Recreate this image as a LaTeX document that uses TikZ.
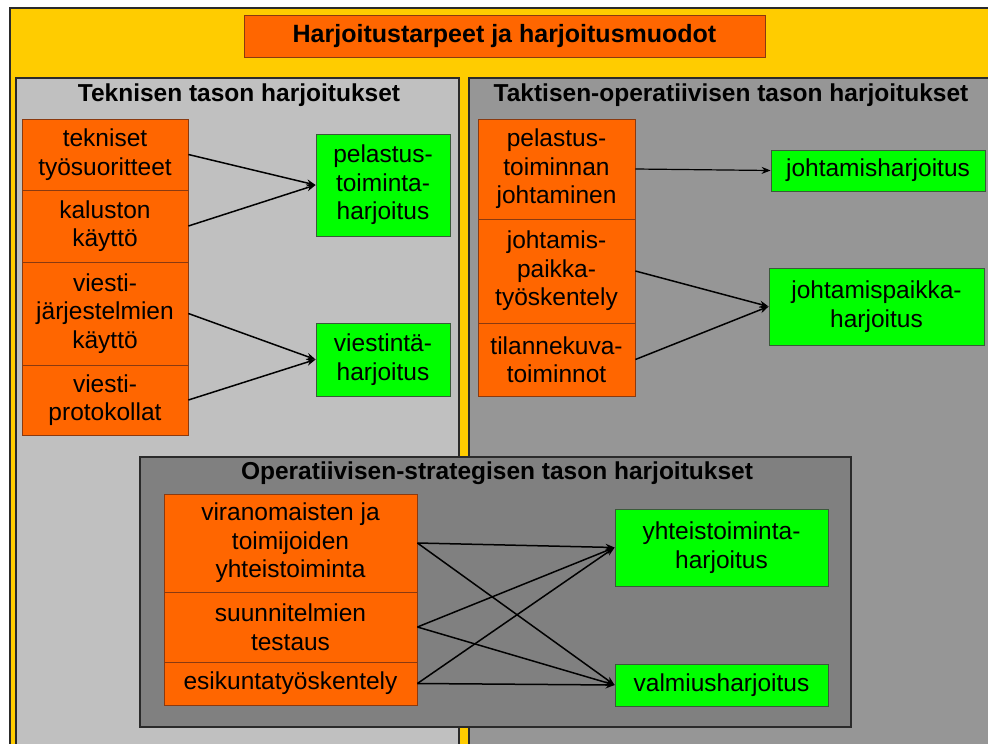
\documentclass[tikz,border=0pt]{standalone}
\usepackage{fontspec}
\setmainfont{Liberation Sans}
\usetikzlibrary{arrows.meta}
\definecolor{yel}{HTML}{FFCC00}
\definecolor{org}{HTML}{FF6600}
\definecolor{orgline}{HTML}{8A3A10}
\definecolor{grn}{HTML}{00FF00}
\definecolor{grnline}{HTML}{3A5A3A}
\definecolor{lgr}{HTML}{C0C0C0}
\definecolor{mgr}{HTML}{969696}
\definecolor{dgr}{HTML}{808080}
\definecolor{edge}{HTML}{2A2A2A}
\begin{document}
\begin{tikzpicture}[x=1pt,y=-1pt,
  txt/.style={font=\fontsize{24.5}{28.5}\selectfont},
  cell/.style={txt, draw=orgline, fill=org, line width=0.8pt, align=center, inner sep=0pt},
  goal/.style={txt, draw=grnline, fill=grn, line width=0.8pt, align=center, inner sep=0pt},
  ptitle/.style={font=\fontsize{24.5}{28.5}\selectfont\bfseries, inner sep=0pt},
  panel/.style={draw=edge, line width=1.5pt},
  arr/.style={-{Stealth[length=9pt,width=7pt]}, line width=1.5pt, black}]
\useasboundingbox (0,0) rectangle (988,744);
\fill[white] (0,0) rectangle (988,744);
\clip (0,0) rectangle (988,744);
% outer yellow frame
\draw[fill=yel, draw=edge, line width=1.5pt] (10,8) rectangle (1000,760);
% main title
\node[ptitle, draw=orgline, fill=org, line width=0.8pt, minimum width=521, minimum height=42, font=\fontsize{25}{30}\selectfont\bfseries] (mt) at (504.5,36) {Harjoitustarpeet ja harjoitusmuodot};
% panels
\draw[panel, fill=lgr] (16,78) rectangle (459,770);
\draw[panel, fill=mgr] (469,78) rectangle (1000,770);
\node[ptitle] (lt) at (239,95) {Teknisen tason harjoitukset};
\node[ptitle] (rt) at (731,95) {Taktisen-operatiivisen tason harjoitukset};
% left panel
\node[cell, minimum width=166, minimum height=71] (c1) at (105,154.5) {tekniset\\työsuoritteet};
\node[cell, minimum width=166, minimum height=72] (c2) at (105,226) {kaluston\\käyttö};
\node[cell, minimum width=166, minimum height=103] (c3) at (105,313.5) {viesti-\\järjestelmien\\käyttö};
\node[cell, minimum width=166, minimum height=70] (c4) at (105,400) {viesti-\\protokollat};
\node[goal, minimum width=134, minimum height=102] (g1) at (383,185) {pelastus-\\toiminta-\\harjoitus};
\node[goal, minimum width=134, minimum height=73] (g2) at (383,359.5) {viestintä-\\harjoitus};
\draw[arr] (c1.east) -- (g1.west);
\draw[arr] (c2.east) -- (g1.west);
\draw[arr] (c3.east) -- (g2.west);
\draw[arr] (c4.east) -- (g2.west);
% right panel
\node[cell, minimum width=157, minimum height=100] (r1) at (556.5,169) {pelastus-\\toiminnan\\johtaminen};
\node[cell, minimum width=157, minimum height=104] (r2) at (556.5,271) {johtamis-\\paikka-\\työskentely};
\node[cell, minimum width=157, minimum height=73] (r3) at (556.5,359.5) {tilannekuva-\\toiminnot};
\node[goal, minimum width=214, minimum height=41] (h1) at (878,170.5) {johtamisharjoitus};
\node[goal, minimum width=215, minimum height=77] (h2) at (876.5,306.5) {johtamispaikka-\\harjoitus};
\draw[arr, line width=1.2pt] (r1.east) -- (h1.west);
\draw[arr] (r2.east) -- (h2.west);
\draw[arr] (r3.east) -- (h2.west);
% bottom panel
\draw[panel, fill=dgr] (140,457) rectangle (851,727);
\node[ptitle] (bt) at (497,473) {Operatiivisen-strategisen tason harjoitukset};
\node[cell, minimum width=253, minimum height=98] (b1) at (290.5,543) {viranomaisten ja\\toimijoiden\\yhteistoiminta};
\node[cell, minimum width=253, minimum height=70] (b2) at (290.5,627) {suunnitelmien\\testaus};
\node[cell, minimum width=253, minimum height=43] (b3) at (290.5,683.5) {esikuntatyöskentely};
\node[goal, minimum width=213, minimum height=77] (y1) at (721.5,547.5) {yhteistoiminta-\\harjoitus};
\node[goal, minimum width=213, minimum height=42] (y2) at (721.5,685) {valmiusharjoitus};
\draw[arr] (b1.east) -- (y1.west);
\draw[arr] (b1.east) -- (y2.west);
\draw[arr] (b2.east) -- (y1.west);
\draw[arr] (b2.east) -- (y2.west);
\draw[arr] (b3.east) -- (y1.west);
\draw[arr] (b3.east) -- (y2.west);
\end{tikzpicture}
\end{document}
